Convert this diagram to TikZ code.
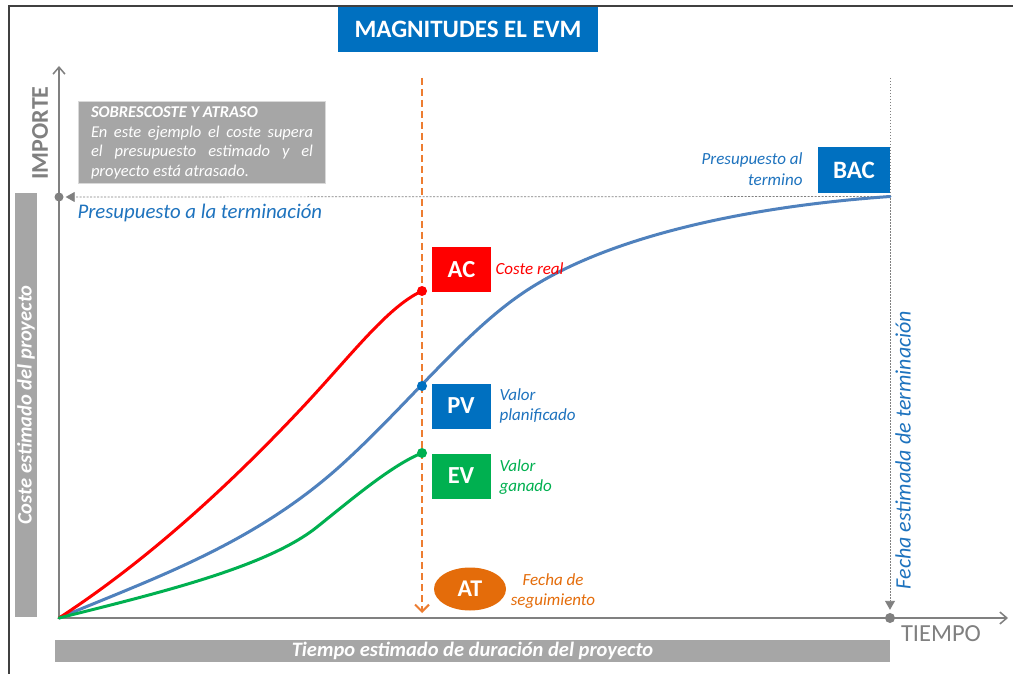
\documentclass[tikz,border=0pt]{standalone}
\usepackage{fontspec}
\setmainfont{Carlito}
\usetikzlibrary{arrows.meta,shapes.geometric}
\definecolor{evmblue}{RGB}{0,112,192}
\definecolor{txtblue}{RGB}{30,115,190}
\definecolor{curveblue}{RGB}{79,129,189}
\definecolor{axisgray}{RGB}{128,128,128}
\definecolor{bargray}{RGB}{166,166,166}
\definecolor{framegray}{RGB}{64,64,64}
\definecolor{atorange}{RGB}{228,108,10}
\definecolor{lineorange}{RGB}{237,125,49}
\definecolor{acred}{RGB}{255,0,0}
\definecolor{evgreen}{RGB}{0,176,80}
\newcommand{\fs}[1]{\fontsize{#1}{#1}\selectfont}
\begin{document}
\begin{tikzpicture}[x=1pt,y=-1pt,
  axis/.style={draw=axisgray, line width=1.8pt},
  dot/.style={circle, inner sep=0pt, minimum size=10pt},
  magbox/.style={inner sep=0pt, minimum width=59pt, minimum height=45pt, text=white, font=\bfseries\fs{24.5}},
  lbl/.style={anchor=west, align=left, font=\itshape\fontsize{17}{20}\selectfont},
  graybar/.style={fill=bargray, inner sep=0pt, text=white, font=\bfseries\itshape\fs{20.5}},
  curve/.style={line width=3pt, line cap=round}
]
\useasboundingbox (0,0) rectangle (1013,674);
\fill[white] (0,0) rectangle (1013,674);
% frame
\draw[framegray, line width=2pt] (8.5,674) -- (8.5,6.5) -- (1013,6.5);
% title
\node[fill=evmblue, text=white, font=\bfseries\fs{25}, minimum width=260pt, minimum height=45pt, inner sep=0pt] (title) at (468,29.5) {MAGNITUDES EL EVM};
% gray bars
\node[graybar, rotate=90, minimum width=424pt, minimum height=22pt] (lbar) at (26,405) {Coste estimado del proyecto};
\node[graybar, minimum width=835pt, minimum height=22pt] (bbar) at (472.5,651) {Tiempo estimado de duración del proyecto};
% note
\node[fill=bargray, draw=black!15, line width=0.6pt, minimum width=247pt, minimum height=82pt, inner sep=0pt] (note) at (201.5,142) {};
\node[text=white, text width=222pt, align=justify, inner sep=0pt, font=\itshape\fontsize{16.5}{19.7}\selectfont] (notetxt) at (202,143) {\textbf{SOBRESCOSTE Y ATRASO}\\ En este ejemplo el coste supera\linebreak el presupuesto estimado y el\linebreak proyecto está atrasado.};
% axes
\coordinate (O) at (59,618);
\coordinate (ytop) at (59,66);
\coordinate (xend) at (1008,618);
\draw[axis, -{Straight Barb[length=7pt, width=12pt, line width=1.5pt]}] (O) -- (ytop);
\draw[axis, -{Straight Barb[length=7pt, width=12pt, line width=1.5pt]}] (O) -- (xend);
\node[rotate=90, text=axisgray, font=\bfseries\fs{24}] (importe) at (40,133) {IMPORTE};
\node[text=axisgray, font=\fs{24.5}] (tiempo) at (941,634) {TIEMPO};
% BAC reference lines
\node[dot, fill=axisgray, minimum size=9pt] (bacdot) at (59,197) {};
\node[dot, fill=axisgray, minimum size=10pt] (fedot) at (890,618) {};
\coordinate (bacend) at (890,196.5);
\coordinate (fetop) at (890,78);
\draw[axisgray, line width=0.7pt, dash pattern=on 2pt off 1.5pt, -{Triangle[length=9pt, width=10pt]}, shorten >=2pt] (bacend) -- (bacdot);
\draw[axisgray, line width=0.9pt, dash pattern=on 1.5pt off 1.5pt, -{Triangle[length=9pt, width=10pt]}, shorten >=3pt] (fetop) -- (fedot);
\node[anchor=west, text=txtblue, font=\itshape\fs{20.8}] (bactxt) at (74,213) {Presupuesto a la terminación};
\node[rotate=90, text=txtblue, font=\itshape\fs{22}] (fetxt) at (903,450) {Fecha estimada de terminación};
% BAC box
\node[fill=evmblue, inner sep=0pt, minimum width=72pt, minimum height=46pt, text=white, font=\bfseries\fs{25}] (bac) at (854,170) {BAC};
\node[anchor=east, align=right, text=txtblue, font=\itshape\fontsize{17}{21}\selectfont] (bacl) at (806,169) {Presupuesto al\\termino};
% orange AT line
\coordinate (attop) at (422,78);
\coordinate (atbot) at (422,613);
\draw[lineorange, line width=2.8pt, dash pattern=on 7pt off 4pt, -{Straight Barb[length=7pt, width=14pt, line width=2pt]}] (attop) -- (atbot);
% curve end dots and joins
\coordinate (acpt) at (422,291);
\coordinate (pvpt) at (422,386);
\coordinate (evpt) at (422,453);
\coordinate (acmid) at (300,410);
\coordinate (pvmid1) at (350,457);
\coordinate (pvmid2) at (520,295);
\coordinate (evmid) at (317,527);
% curves
\draw[curve, curveblue] (O) .. controls (159,576) and (260,542) .. (pvmid1)
  .. controls (410,401) and (465,333) .. (pvmid2)
  .. controls (600,239) and (740,207) .. (bacend);
\draw[curve, acred] (O) .. controls (139,566) and (220,495) .. (acmid)
  .. controls (350,357) and (387,307) .. (acpt);
\draw[curve, evgreen] (O) .. controls (159,593) and (267,567) .. (evmid)
  .. controls (352,499) and (392,465) .. (evpt);
\node[dot, fill=acred] (acdot) at (acpt) {};
\node[dot, fill=evmblue] (pvdot) at (pvpt) {};
\node[dot, fill=evgreen] (evdot) at (evpt) {};
% boxes and labels
\node[magbox, fill=acred] (ac) at (461.5,269.5) {AC};
\node[lbl, text=acred] (acl) at (492,269) {Coste real};
\node[magbox, fill=evmblue] (pv) at (461,406) {PV};
\node[lbl, text=txtblue] (pvl) at (496,406) {Valor\\planificado};
\node[magbox, fill=evgreen] (ev) at (461,476) {EV};
\node[lbl, text=evgreen] (evl) at (496,477) {Valor\\ganado};
\node[ellipse, fill=atorange, inner sep=0pt, minimum width=72pt, minimum height=43pt, text=white, font=\bfseries\fs{24}] (at) at (470,589) {AT};
\node[align=center, text=atorange, font=\itshape\fontsize{17}{20}\selectfont] (atl) at (553,591) {Fecha de\\seguimiento};
\end{tikzpicture}
\end{document}
